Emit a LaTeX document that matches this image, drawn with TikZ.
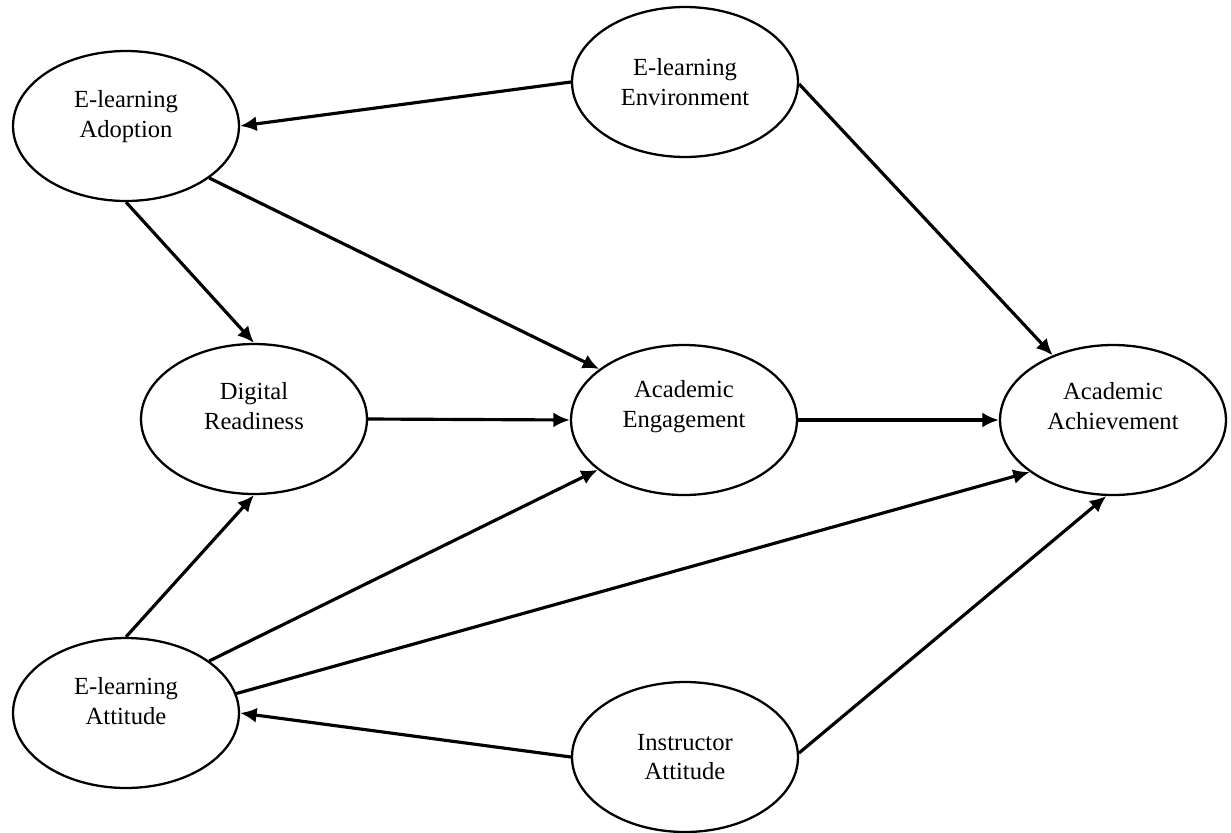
\documentclass[tikz,border=0pt]{standalone}
\usepackage{fontspec}
\setmainfont{Liberation Serif}
\usetikzlibrary{shapes.geometric,arrows.meta}

\tikzset{
  latent/.style={draw, ellipse, line width=1.3pt, minimum width=4.52cm, minimum height=3cm, inner sep=0pt, align=center, font=\fontsize{14}{17}\selectfont},
  tekst/.style={align=center, font=\fontsize{14}{17}\selectfont},
  pil/.style={-{Latex[length=3.3mm,width=3mm]}, line width=1.8pt}
}

\begin{document}
\begin{tikzpicture}[x=0.02cm,y=-0.02cm]
  %ramme
  	\useasboundingbox (0,0) rectangle (1231,832);

  %variabler med tekst i midten
  	\node[latent] (env) at (685,82) {E-learning\\Environment};
  	\node[latent] (instr) at (685,757) {Instructor\\Attitude};

  %variabler med tekst litt over midten
  	\node[latent] (adopt) at (126,126) {};
  	\node[tekst] (adopt-t) at (126,117) {E-learning\\Adoption};
  	\node[latent] (ready) at (254,419) {};
  	\node[tekst] (ready-t) at (254,406) {Digital\\Readiness};
  	\node[latent] (engage) at (684,420) {};
  	\node[tekst] (engage-t) at (684,407) {Academic\\Engagement};
  	\node[latent] (achieve) at (1113,420) {};
  	\node[tekst] (achieve-t) at (1113,406) {Academic\\Achievement};
  	\node[latent] (eatt) at (126,713) {};
  	\node[tekst] (eatt-t) at (126,701) {E-learning\\Attitude};

  %piler
  	\draw[pil] (env.west) -- (adopt.east);
  	\draw[pil] (adopt.south) -- (ready.north);
  	\draw[pil] (adopt.-32) -- (engage.149);
  	\draw[pil] (env.-1) -- (achieve.133);
  	\draw[pil] (ready.east) -- (engage.west);
  	\draw[pil] (engage.east) -- (achieve.west);
  	\draw[pil] (eatt.north) -- (ready.south);
  	\draw[pil] (eatt.32) -- (engage.210);
  	\draw[pil] (eatt.10) -- (achieve.212);
  	\draw[pil] (instr.west) -- (eatt.east);
  	\draw[pil] (instr.2) -- (achieve.265);
\end{tikzpicture}
\end{document}
